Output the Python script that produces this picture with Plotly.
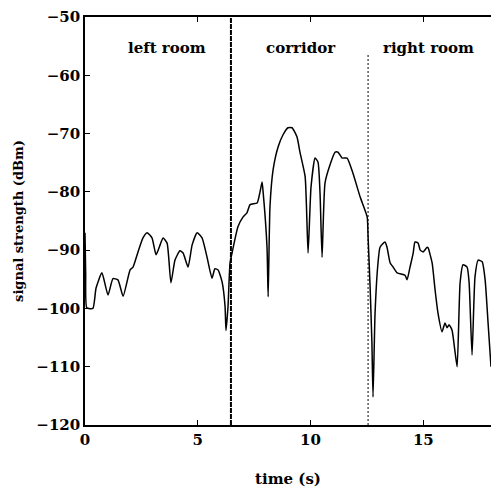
import plotly.graph_objects as go

time_s = [0.0, 0.03, 0.08, 0.35, 0.49, 0.75, 1.02, 1.24, 1.46, 1.69, 2.0, 2.13, 2.35, 2.57, 2.75,
          2.97, 3.15, 3.33, 3.46, 3.64, 3.81, 3.99, 4.21, 4.35, 4.57, 4.75, 4.97, 5.19, 5.41,
          5.63, 5.76, 5.90, 6.08, 6.21, 6.25, 6.34, 6.43, 6.52, 6.78, 7.01, 7.18, 7.32, 7.63,
          7.76, 7.85, 7.89, 8.07, 8.12, 8.20, 8.34, 8.56, 8.78, 9.0, 9.18, 9.40, 9.53, 9.76,
          9.89, 10.02, 10.2, 10.33, 10.42, 10.51, 10.64, 10.86, 11.09, 11.22, 11.4, 11.62,
          11.88, 12.2, 12.51, 12.55, 12.64, 12.72, 12.77, 12.86, 12.99, 13.08, 13.30, 13.39,
          13.53, 13.66, 13.84, 14.19, 14.28, 14.41, 14.55, 14.63, 14.77, 14.86, 14.99, 15.17,
          15.21, 15.39, 15.52, 15.65, 15.83, 15.96, 16.05, 16.14, 16.27, 16.41, 16.50, 16.63,
          16.76, 16.94, 17.03, 17.16, 17.29, 17.43, 17.61, 17.74, 17.87, 18.0]
signal_dbm = [-87.0, -94.0, -99.9, -100.0, -96.5, -93.9, -97.7, -94.9, -95.1, -97.9, -93.4, -92.9,
              -90.3, -87.9, -87.0, -87.9, -90.8, -89.1, -87.9, -88.8, -95.6, -91.7, -90.1, -90.5,
              -92.9, -89.1, -87.0, -87.9, -91.2, -94.8, -93.2, -93.4, -95.5, -99.7, -103.8, -99.7,
              -92.2, -90.5, -86.0, -84.3, -83.6, -82.2, -81.9, -80.0, -78.3, -79.7, -89.5, -98.0,
              -82.6, -76.2, -72.3, -70.2, -69.0, -69.0, -70.6, -73.2, -77.4, -90.5, -79.2, -74.2,
              -74.9, -80.2, -91.2, -78.5, -75.4, -73.2, -73.2, -74.2, -74.2, -76.8, -80.9, -84.3,
              -87.7, -96.3, -105.9, -115.2, -100.8, -92.2, -89.5, -88.6, -89.5, -92.2, -92.9,
              -93.9, -94.3, -95.1, -92.9, -90.5, -88.6, -88.8, -90.0, -90.3, -89.5, -89.6, -92.2,
              -96.8, -100.8, -104.0, -102.5, -103.3, -102.8, -103.7, -107.6, -110.0, -95.6, -92.5,
              -92.9, -95.6, -108.0, -94.6, -91.7, -92.0, -95.1, -102.5, -110.0]

boundaries_s = [6.47, 12.55]
region_labels = ["left room", "corridor", "right room"]
region_centers_s = [3.65, 9.58, 15.25]

x_ticks = [0, 5, 10, 15]
y_ticks = [-120, -110, -100, -90, -80, -70, -60, -50]

FONT = "DejaVu Serif"

fig = go.Figure()
fig.add_trace(go.Scatter(x=time_s, y=signal_dbm, mode="lines",
                         line=dict(color="black", width=1.5, shape="spline", smoothing=0.5),
                         showlegend=False))

# room boundaries
fig.add_trace(go.Scatter(x=[boundaries_s[0], boundaries_s[0]], y=[-120, -50], mode="lines",
                         line=dict(color="black", width=2, dash="5px,1px"), showlegend=False))
fig.add_trace(go.Scatter(x=[boundaries_s[1], boundaries_s[1]], y=[-120, -56.5], mode="lines",
                         line=dict(color="black", width=1, dash="2px,2px"), showlegend=False))

for lab, cx in zip(region_labels, region_centers_s):
    fig.add_annotation(x=cx, y=-55.4, text=lab, showarrow=False,
                       font=dict(family=FONT, size=15, color="black", weight="bold"))

fig.update_layout(
    width=491, height=488,
    margin=dict(l=85, r=0, t=17, b=63),
    paper_bgcolor="white", plot_bgcolor="white",
    font=dict(family=FONT, size=14, color="black", weight="bold"),
)
fig.update_xaxes(range=[0, 18], tickvals=x_ticks, showgrid=False, zeroline=False,
                 showline=True, linecolor="black", linewidth=1.5, mirror="ticks",
                 ticks="inside", ticklen=5, tickcolor="black",
                 title=dict(text="time (s)", standoff=26,
                            font=dict(family=FONT, size=15, weight="bold")),
                 tickfont=dict(family=FONT, size=15, weight="bold"))
fig.update_yaxes(range=[-120, -50], tickvals=y_ticks, showgrid=False, zeroline=False,
                 showline=True, linecolor="black", linewidth=1.5,
                 ticks="inside", ticklen=5, tickcolor="black",
                 title=dict(text="signal strength (dBm)", standoff=10,
                            font=dict(family=FONT, size=13, weight="bold")),
                 tickfont=dict(family=FONT, size=15, weight="bold"))

fig.write_html("out.html")
